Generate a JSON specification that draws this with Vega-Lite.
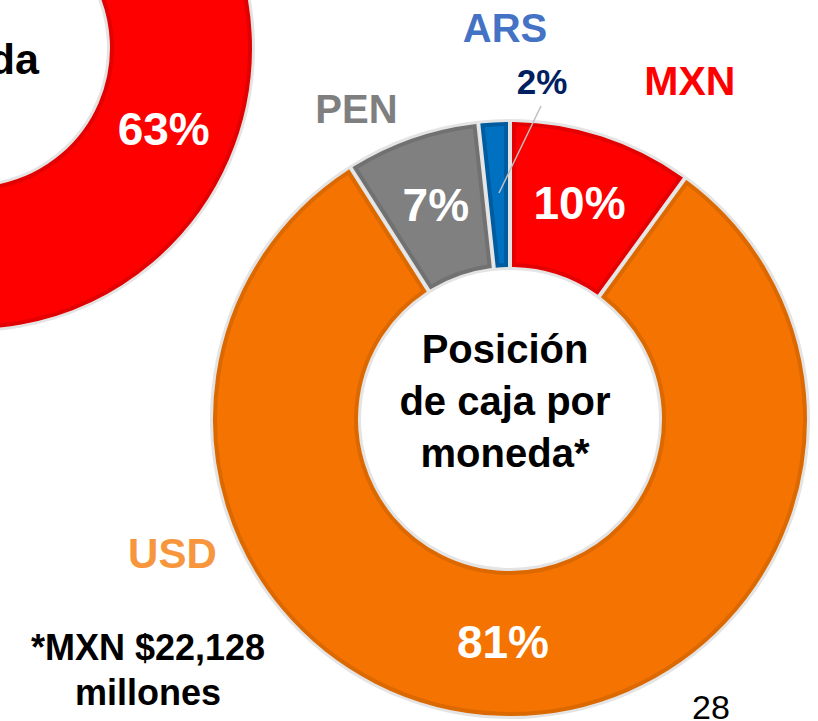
{
  "$schema": "https://vega.github.io/schema/vega-lite/v6.json",
  "width": 818,
  "height": 721,
  "autosize": {"type": "none"},
  "padding": 0,
  "background": "#FFFFFF",
  "config": {"view": {"stroke": null}},
  "datasets": {
    "deuda": [
      {"grafica": "Deuda", "moneda": "MXN", "participacion": 0.63, "orden": 1}
    ],
    "caja": [
      {"grafica": "Caja", "moneda": "MXN", "participacion": 0.10, "orden": 1},
      {"grafica": "Caja", "moneda": "USD", "participacion": 0.81, "orden": 2},
      {"grafica": "Caja", "moneda": "PEN", "participacion": 0.073, "orden": 3},
      {"grafica": "Caja", "moneda": "ARS", "participacion": 0.017, "orden": 4}
    ],
    "textos": [
      {"grafica": "Deuda", "tipo": "titulo", "texto": "da"},
      {"grafica": "Caja", "tipo": "titulo", "texto": "Posición\nde caja por\nmoneda*"},
      {"grafica": "Caja", "tipo": "nota", "texto": "*MXN $22,128\nmillones"},
      {"grafica": "Caja", "tipo": "pagina", "texto": "28"}
    ]
  },
  "encoding": {
    "x": {"field": "grafica", "type": "nominal", "axis": null,
          "scale": {"type": "point", "domain": ["Deuda", "Caja"], "range": [-29, 510], "padding": 0}},
    "y": {"field": "grafica", "type": "nominal", "axis": null,
          "scale": {"type": "point", "domain": ["Deuda", "Caja"], "range": [48, 419], "padding": 0}}
  },
  "layer": [
    {
      "data": {"name": "deuda"},
      "mark": {"type": "arc", "outerRadius": 284, "innerRadius": 136, "fill": "#E4E4E4"},
      "encoding": {
        "theta": {"field": "participacion", "type": "quantitative", "stack": true, "scale": {"domain": [0, 1]}},
        "order": {"field": "orden", "type": "quantitative"},
        "detail": {"field": "moneda"}
      }
    },
    {
      "data": {"name": "deuda"},
      "mark": {"type": "arc", "outerRadius": 279, "innerRadius": 141, "padAngle": 0.024, "strokeWidth": 4},
      "encoding": {
        "theta": {"field": "participacion", "type": "quantitative", "stack": true, "scale": {"domain": [0, 1]}},
        "order": {"field": "orden", "type": "quantitative"},
        "color": {"field": "moneda", "type": "nominal", "legend": null,
                  "scale": {"domain": ["MXN", "USD", "PEN", "ARS"], "range": ["#FF0000", "#F57300", "#808080", "#0070C0"]}},
        "stroke": {"field": "moneda", "type": "nominal", "legend": null,
                   "scale": {"domain": ["MXN", "USD", "PEN", "ARS"], "range": ["#E20000", "#DC6800", "#717171", "#005C9E"]}}
      }
    },
    {
      "data": {"name": "deuda"},
      "mark": {"type": "text", "radius": 210, "font": "Liberation Sans", "fontWeight": "bold", "fontSize": 46, "color": "#FFFFFF", "align": "center", "baseline": "middle"},
      "encoding": {
        "theta": {"field": "participacion", "type": "quantitative", "stack": true, "scale": {"domain": [0, 1]}},
        "order": {"field": "orden", "type": "quantitative"},
        "detail": {"field": "moneda"},
        "text": {"field": "participacion", "type": "quantitative", "format": ".0%"}
      }
    },
    {
      "data": {"name": "textos"},
      "transform": [{"filter": "datum.grafica === 'Deuda' && datum.tipo === 'titulo'"}],
      "mark": {"type": "text", "font": "Liberation Sans", "fontWeight": "bold", "fontSize": 43, "color": "#000000", "align": "right", "baseline": "alphabetic", "dx": 68, "dy": 26},
      "encoding": {"text": {"field": "texto", "type": "nominal"}}
    },
    {
      "data": {"name": "caja"},
      "mark": {"type": "arc", "outerRadius": 300, "innerRadius": 149, "fill": "#E4E4E4"},
      "encoding": {
        "theta": {"field": "participacion", "type": "quantitative", "stack": true, "scale": {"domain": [0, 1]}},
        "order": {"field": "orden", "type": "quantitative"},
        "detail": {"field": "moneda"}
      }
    },
    {
      "data": {"name": "caja"},
      "mark": {"type": "arc", "outerRadius": 295, "innerRadius": 154, "padAngle": 0.024, "strokeWidth": 4},
      "encoding": {
        "theta": {"field": "participacion", "type": "quantitative", "stack": true, "scale": {"domain": [0, 1]}},
        "order": {"field": "orden", "type": "quantitative"},
        "color": {"field": "moneda", "type": "nominal", "legend": null,
                  "scale": {"domain": ["MXN", "USD", "PEN", "ARS"], "range": ["#FF0000", "#F57300", "#808080", "#0070C0"]}},
        "stroke": {"field": "moneda", "type": "nominal", "legend": null,
                   "scale": {"domain": ["MXN", "USD", "PEN", "ARS"], "range": ["#E20000", "#DC6800", "#717171", "#005C9E"]}}
      }
    },
    {
      "data": {"name": "caja"},
      "mark": {"type": "text", "radius": 225, "font": "Liberation Sans", "fontWeight": "bold", "fontSize": 46, "color": "#FFFFFF", "align": "center", "baseline": "middle"},
      "encoding": {
        "theta": {"field": "participacion", "type": "quantitative", "stack": true, "scale": {"domain": [0, 1]}},
        "order": {"field": "orden", "type": "quantitative"},
        "detail": {"field": "moneda"},
        "text": {"field": "participacion", "type": "quantitative", "format": ".0%"},
        "opacity": {"condition": {"test": "datum.moneda === 'ARS'", "value": 0}, "value": 1}
      }
    },
    {
      "data": {"name": "caja"},
      "transform": [{"filter": "datum.moneda === 'ARS'"}],
      "mark": {"type": "rule", "color": "#BFBFBF", "strokeWidth": 1.5, "xOffset": -11, "yOffset": -226, "x2Offset": 31, "y2Offset": -313},
      "encoding": {"x2": {"field": "grafica"}, "y2": {"field": "grafica"}}
    },
    {
      "data": {"name": "caja"},
      "transform": [{"filter": "datum.moneda === 'ARS'"}],
      "mark": {"type": "text", "theta": 0.0948, "radius": 338, "font": "Liberation Sans", "fontWeight": "bold", "fontSize": 35, "color": "#002060", "align": "center", "baseline": "middle"},
      "encoding": {"text": {"field": "participacion", "type": "quantitative", "format": ".0%"}}
    },
    {
      "data": {"name": "caja"},
      "transform": [{"filter": "datum.moneda === 'ARS'"}],
      "mark": {"type": "text", "theta": -0.0129, "radius": 389, "font": "Liberation Sans", "fontWeight": "bold", "fontSize": 40, "color": "#4472C4", "align": "center", "baseline": "middle"},
      "encoding": {"text": {"field": "moneda", "type": "nominal"}}
    },
    {
      "data": {"name": "caja"},
      "transform": [{"filter": "datum.moneda === 'MXN'"}],
      "mark": {"type": "text", "theta": 0.4918, "radius": 381, "font": "Liberation Sans", "fontWeight": "bold", "fontSize": 41, "color": "#FF0000", "align": "center", "baseline": "middle"},
      "encoding": {"text": {"field": "moneda", "type": "nominal"}}
    },
    {
      "data": {"name": "caja"},
      "transform": [{"filter": "datum.moneda === 'PEN'"}],
      "mark": {"type": "text", "theta": -0.4627, "radius": 344, "font": "Liberation Sans", "fontWeight": "bold", "fontSize": 40, "color": "#7F7F7F", "align": "center", "baseline": "middle"},
      "encoding": {"text": {"field": "moneda", "type": "nominal"}}
    },
    {
      "data": {"name": "caja"},
      "transform": [{"filter": "datum.moneda === 'USD'"}],
      "mark": {"type": "text", "theta": -1.9542, "radius": 364, "font": "Liberation Sans", "fontWeight": "bold", "fontSize": 42, "color": "#F7963C", "align": "center", "baseline": "middle"},
      "encoding": {"text": {"field": "moneda", "type": "nominal"}}
    },
    {
      "data": {"name": "textos"},
      "transform": [{"filter": "datum.grafica === 'Caja' && datum.tipo === 'titulo'"}],
      "mark": {"type": "text", "font": "Liberation Sans", "fontWeight": "bold", "fontSize": 40, "lineHeight": 52, "lineBreak": "\n", "color": "#000000", "align": "center", "baseline": "alphabetic", "dx": -5, "dy": -56},
      "encoding": {"text": {"field": "texto", "type": "nominal"}}
    },
    {
      "data": {"name": "textos"},
      "transform": [{"filter": "datum.tipo === 'nota'"}],
      "mark": {"type": "text", "font": "Liberation Sans", "fontWeight": "bold", "fontSize": 36, "lineHeight": 45, "lineBreak": "\n", "color": "#000000", "align": "center", "baseline": "alphabetic", "dx": -362, "dy": 241},
      "encoding": {"text": {"field": "texto", "type": "nominal"}}
    },
    {
      "data": {"name": "textos"},
      "transform": [{"filter": "datum.tipo === 'pagina'"}],
      "mark": {"type": "text", "font": "Liberation Sans", "fontWeight": "normal", "fontSize": 34, "color": "#000000", "align": "center", "baseline": "alphabetic", "dx": 201, "dy": 300},
      "encoding": {"text": {"field": "texto", "type": "nominal"}}
    }
  ]
}
